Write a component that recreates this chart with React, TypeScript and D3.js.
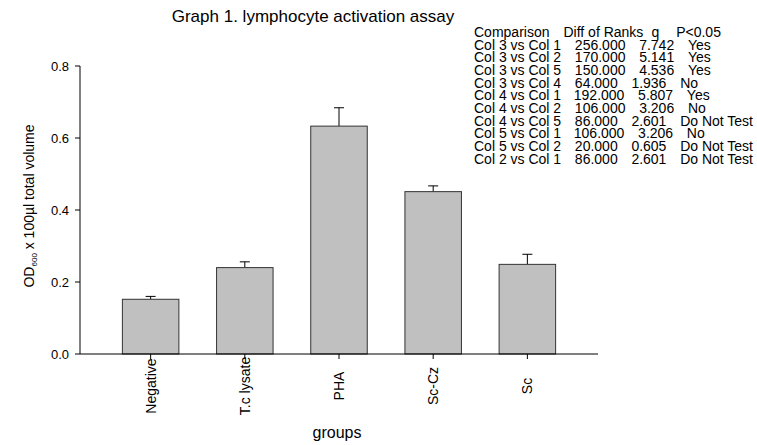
import React from 'react';
import * as d3 from 'd3';

const groups = ['Negative', 'T.c lysate', 'PHA', 'Sc-Cz', 'Sc'];
const means = [0.152, 0.240, 0.633, 0.451, 0.249];
const errors = [0.008, 0.016, 0.051, 0.016, 0.028];
const yTicks = [0.0, 0.2, 0.4, 0.6, 0.8];

const comparisonHeader = ['Comparison', 'Diff of Ranks', 'q', 'P<0.05'];
const comparisonRows = [
  ['Col 3 vs Col 1', '256.000', '7.742', 'Yes'],
  ['Col 3 vs Col 2', '170.000', '5.141', 'Yes'],
  ['Col 3 vs Col 5', '150.000', '4.536', 'Yes'],
  ['Col 3 vs Col 4', '64.000', '1.936', 'No'],
  ['Col 4 vs Col 1', '192.000', '5.807', 'Yes'],
  ['Col 4 vs Col 2', '106.000', '3.206', 'No'],
  ['Col 4 vs Col 5', '86.000', '2.601', 'Do Not Test'],
  ['Col 5 vs Col 1', '106.000', '3.206', 'No'],
  ['Col 5 vs Col 2', '20.000', '0.605', 'Do Not Test'],
  ['Col 2 vs Col 1', '86.000', '2.601', 'Do Not Test'],
];

const W = 757;
const H = 445;
const margin = { top: 66, right: 159, bottom: 91, left: 80 };
const font = '"Liberation Sans", Arial, sans-serif';

const App: React.FC = () => {
  const x = d3.scaleBand<string>()
    .domain(groups)
    .range([margin.left, W - margin.right])
    .paddingInner(0.4)
    .paddingOuter(0.45);

  const y = d3.scaleLinear()
    .domain([0, 0.8])
    .range([H - margin.bottom, margin.top]);

  const y0 = y(0);
  const bw = x.bandwidth();

  // gaps between the fields of the comparison table
  const headerGaps = [0, 14, 8, 17];
  const rowGap = 13.7;

  return (
    <svg width={W} height={H} style={{ position: 'absolute', left: 0, top: 0, fontFamily: font }}>
      <rect width={W} height={H} fill="#fff" />

      {/* title */}
      <text x={313} y={22} textAnchor="middle" fontSize={17}>Graph 1. lymphocyte activation assay</text>

      {/* comparison table */}
      <g fontSize={14}>
        <text x={474} y={37}>
          {comparisonHeader.map((f, j) => <tspan key={j} dx={headerGaps[j]}>{f}</tspan>)}
        </text>
        {comparisonRows.map((r, i) => (
          <text key={i} x={474} y={37 + (i + 1) * 12.65}>
            {r.map((f, j) => <tspan key={j} dx={j === 0 ? 0 : rowGap}>{f}</tspan>)}
          </text>
        ))}
      </g>

      {/* bars */}
      {groups.map((g, i) => {
        const bx = x(g)!;
        const cx = bx + bw / 2;
        const top = y(means[i] + errors[i]);
        return (
          <g key={g}>
            <line x1={cx} x2={cx} y1={y(means[i])} y2={top} stroke="#000" />
            <line x1={cx - 5} x2={cx + 5} y1={top} y2={top} stroke="#000" />
            <rect x={bx} y={y(means[i])} width={bw} height={y0 - y(means[i])}
              fill="#c0c0c0" stroke="#333" strokeWidth={1} />
          </g>
        );
      })}

      {/* y axis */}
      <line x1={margin.left} x2={margin.left} y1={y(0.8)} y2={y0} stroke="#000" />
      {yTicks.map(t => (
        <g key={t}>
          <line x1={margin.left - 5} x2={margin.left} y1={y(t)} y2={y(t)} stroke="#000" />
          <text x={margin.left - 11} y={y(t)} dy="0.35em" textAnchor="end" fontSize={13}>{t.toFixed(1)}</text>
        </g>
      ))}

      {/* x axis */}
      <line x1={margin.left} x2={W - margin.right} y1={y0} y2={y0} stroke="#000" />
      {groups.map(g => {
        const cx = x(g)! + bw / 2;
        return (
          <g key={g}>
            <line x1={cx} x2={cx} y1={y0} y2={y0 + 5} stroke="#000" />
            <text transform={`translate(${cx},386) rotate(-90)`} dy="0.35em" textAnchor="middle" fontSize={14}>{g}</text>
          </g>
        );
      })}

      {/* axis titles */}
      <text x={337} y={438} textAnchor="middle" fontSize={16}>groups</text>
      <text transform={`translate(34,206) rotate(-90)`} textAnchor="middle" fontSize={14}>
        OD<tspan fontSize={8} dy={3}>600</tspan><tspan dy={-3}> x 100µl total volume</tspan>
      </text>
    </svg>
  );
};

export default App;
